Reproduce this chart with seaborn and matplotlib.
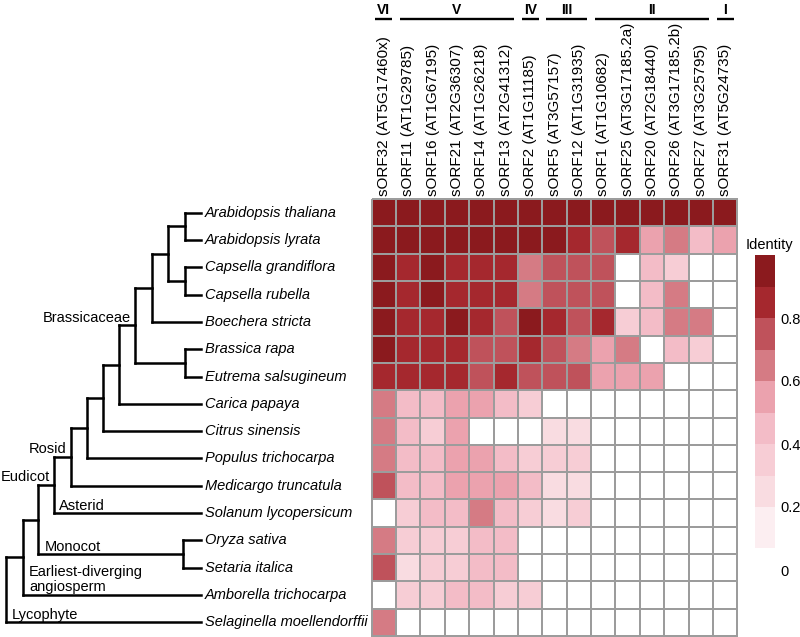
import matplotlib
matplotlib.use("Agg")
import matplotlib.pyplot as plt
import matplotlib.transforms as mtransforms
from matplotlib.colors import ListedColormap, BoundaryNorm
import pandas as pd
import seaborn as sns

plt.rcParams["font.family"] = ["Liberation Sans", "DejaVu Sans"]

species = [
    "Arabidopsis thaliana", "Arabidopsis lyrata", "Capsella grandiflora",
    "Capsella rubella", "Boechera stricta", "Brassica rapa",
    "Eutrema salsugineum", "Carica papaya", "Citrus sinensis",
    "Populus trichocarpa", "Medicargo truncatula", "Solanum lycopersicum",
    "Oryza sativa", "Setaria italica", "Amborella trichocarpa",
    "Selaginella moellendorffii",
]
sorfs = [
    "sORF32 (AT5G17460x)", "sORF11 (AT1G29785)", "sORF16 (AT1G67195)",
    "sORF21 (AT2G36307)", "sORF14 (AT1G26218)", "sORF13 (AT2G41312)",
    "sORF2 (AT1G11185)", "sORF5 (AT3G57157)", "sORF12 (AT1G31935)",
    "sORF1 (AT1G10682)", "sORF25 (AT3G17185.2a)", "sORF20 (AT2G18440)",
    "sORF26 (AT3G17185.2b)", "sORF27 (AT3G25795)", "sORF31 (AT5G24735)",
]
groups = ["VI", "V", "IV", "III", "II", "I"]
group_spans = [(0, 0), (1, 5), (6, 6), (7, 8), (9, 13), (14, 14)]

# identity per species (one value per sORF)
ath = [1.0, 1.0, 1.0, 1.0, 1.0, 1.0, 1.0, 1.0, 1.0, 1.0, 1.0, 1.0, 1.0, 1.0, 1.0]
aly = [0.95, 0.95, 0.95, 0.95, 0.95, 0.95, 0.95, 0.95, 0.85, 0.75, 0.85, 0.55, 0.65, 0.45, 0.55]
cgr = [0.95, 0.85, 0.95, 0.85, 0.85, 0.85, 0.65, 0.75, 0.75, 0.75, 0, 0.45, 0.35, 0, 0]
cru = [0.95, 0.85, 0.95, 0.85, 0.85, 0.85, 0.65, 0.75, 0.75, 0.75, 0, 0.45, 0.65, 0, 0]
bst = [0.95, 0.85, 0.85, 0.95, 0.85, 0.75, 0.95, 0.85, 0.75, 0.85, 0.35, 0.45, 0.65, 0.65, 0]
bra = [0.95, 0.85, 0.85, 0.85, 0.75, 0.75, 0.85, 0.75, 0.65, 0.55, 0.65, 0, 0.45, 0.35, 0]
esa = [0.85, 0.85, 0.85, 0.85, 0.75, 0.85, 0.75, 0.75, 0.75, 0.55, 0.55, 0.55, 0, 0, 0]
cpa = [0.65, 0.45, 0.45, 0.55, 0.55, 0.45, 0.35, 0, 0, 0, 0, 0, 0, 0, 0]
csi = [0.65, 0.45, 0.35, 0.55, 0, 0, 0, 0.25, 0.25, 0, 0, 0, 0, 0, 0]
ptr = [0.65, 0.45, 0.45, 0.55, 0.55, 0.45, 0.35, 0.35, 0.35, 0, 0, 0, 0, 0, 0]
mtr = [0.75, 0.45, 0.45, 0.55, 0.55, 0.55, 0.45, 0.25, 0.25, 0, 0, 0, 0, 0, 0]
sly = [0, 0.35, 0.45, 0.45, 0.65, 0.45, 0.35, 0.25, 0.35, 0, 0, 0, 0, 0, 0]
osa = [0.65, 0.35, 0.35, 0.35, 0.45, 0.45, 0, 0, 0, 0, 0, 0, 0, 0, 0]
sit = [0.75, 0.25, 0.35, 0.35, 0.45, 0.45, 0, 0, 0, 0, 0, 0, 0, 0, 0]
atr = [0, 0.35, 0.35, 0.45, 0.45, 0.35, 0.35, 0, 0, 0, 0, 0, 0, 0, 0]
smo = [0.65, 0, 0, 0, 0, 0, 0, 0, 0, 0, 0, 0, 0, 0, 0]

identity_bounds = [0, 0.07, 0.2, 0.3, 0.4, 0.5, 0.6, 0.7, 0.8, 0.9, 1.0]
identity_colors = ["#ffffff", "#fceef1", "#f9dce1", "#f7cdd5", "#f3bcc7",
                   "#eba2ae", "#d57b84", "#bf525b", "#a5282e", "#8b1a1e"]
cbar_ticks = [0, 0.2, 0.4, 0.6, 0.8]
cbar_ticklabels = ["0", "0.2", "0.4", "0.6", "0.8"]

# cladogram: (node, children) listed children first
clades = [
    ("arab", ["Arabidopsis thaliana", "Arabidopsis lyrata"]),
    ("caps", ["Capsella grandiflora", "Capsella rubella"]),
    ("ac", ["arab", "caps"]),
    ("acb", ["ac", "Boechera stricta"]),
    ("be", ["Brassica rapa", "Eutrema salsugineum"]),
    ("brass", ["acb", "be"]),
    ("car", ["brass", "Carica papaya"]),
    ("cit", ["car", "Citrus sinensis"]),
    ("pop", ["cit", "Populus trichocarpa"]),
    ("rosid", ["pop", "Medicargo truncatula"]),
    ("eudicot", ["rosid", "Solanum lycopersicum"]),
    ("os", ["Oryza sativa", "Setaria italica"]),
    ("mono", ["eudicot", "os"]),
    ("amb", ["mono", "Amborella trichocarpa"]),
    ("root", ["amb", "Selaginella moellendorffii"]),
]
clade_names = [
    ("Brassicaceae", "brass"), ("Rosid", "rosid"), ("Eudicot", "eudicot"),
    ("Asterid", "Solanum lycopersicum"), ("Monocot", "os"),
    ("Earliest-diverging\nangiosperm", "Amborella trichocarpa"),
    ("Lycophyte", "Selaginella moellendorffii"),
]

# layout (pixels of an 800x637 figure)
W, H = 800, 637
node_x = {"arab": 185, "caps": 185, "ac": 168, "acb": 152, "be": 185,
          "brass": 135, "car": 119, "cit": 103, "pop": 87, "rosid": 71,
          "eudicot": 54, "os": 183, "mono": 38, "amb": 23, "root": 6}
leaf_x = 201
label_pos = {"Brassicaceae": (131, "right"), "Rosid": (67, "right"),
             "Eudicot": (50, "right"), "Asterid": (59, "left"),
             "Monocot": (45, "left"), "Earliest-diverging\nangiosperm": (29, "left"),
             "Lycophyte": (12, "left")}

df = pd.DataFrame([ath, aly, cgr, cru, bst, bra, esa, cpa, csi, ptr, mtr,
                   sly, osa, sit, atr, smo], index=species, columns=sorfs)

cmap = ListedColormap(identity_colors)
norm = BoundaryNorm(identity_bounds, cmap.N)

fig = plt.figure(figsize=(W / 100, H / 100), dpi=100)
hm_left, hm_right, hm_top, hm_bottom = 371.7, 737.3, 199, 636
ax = fig.add_axes([hm_left / W, 1 - hm_bottom / H,
                   (hm_right - hm_left) / W, (hm_bottom - hm_top) / H])
cax = fig.add_axes([755 / W, 1 - 570 / H, 20 / W, 315 / H])

sns.heatmap(df, ax=ax, cmap=cmap, norm=norm, linewidths=1.3,
            linecolor="#9c9c9c", cbar_ax=cax,
            cbar_kws={"spacing": "proportional"},
            xticklabels=sorfs, yticklabels=False)
ax.collections[0].set_clip_on(False)
ax.xaxis.tick_top()
ax.tick_params(axis="x", length=0, pad=2)
plt.setp(ax.get_xticklabels(), rotation=90, ha="center", va="bottom",
         fontsize=11)
ax.set_xlabel("")
ax.set_ylabel("")

cbar = ax.collections[0].colorbar
cbar.set_ticks(cbar_ticks, labels=cbar_ticklabels)
cbar.ax.minorticks_off()
cbar.ax.tick_params(which="both", length=0, pad=4, labelsize=10.5)
cbar.outline.set_visible(False)
fig.text(769 / W, 1 - 245 / H, "Identity", ha="center", va="center",
         fontsize=10.5)

# group brackets above the columns
trans = mtransforms.blended_transform_factory(ax.transData, fig.transFigure)
for name, (a, b) in zip(groups, group_spans):
    x0, x1 = a + 0.15, b + 0.85
    ax.plot([x0, x1], [1 - 19 / H] * 2, transform=trans, color="black",
            lw=1.7, clip_on=False, solid_capstyle="butt")
    ax.text((x0 + x1) / 2, 1 - 14 / H, name, transform=trans, ha="center",
            va="baseline", fontsize=10, fontweight="bold")
ax.set_xlim(0, len(sorfs))

# tree on the left, sharing the heat map rows
tax = fig.add_axes([0, 1 - hm_bottom / H, hm_left / W, (hm_bottom - hm_top) / H])
tax.set_xlim(0, hm_left)
tax.set_ylim(len(species), 0)
tax.axis("off")

node_y = {}


def pos(n):
    if n in node_y:
        return node_x[n], node_y[n]
    return leaf_x, species.index(n) + 0.5


for name, kids in clades:
    ys = [pos(k)[1] for k in kids]
    node_y[name] = (min(ys) + max(ys)) / 2
    x = node_x[name]
    tax.plot([x, x], [min(ys), max(ys)], color="black", lw=1.8,
             solid_capstyle="projecting")
    for k in kids:
        kx, ky = pos(k)
        tax.plot([x, kx], [ky, ky], color="black", lw=1.8,
                 solid_capstyle="projecting")

for i, sp in enumerate(species):
    tax.text(205, i + 0.5, sp, style="italic", fontsize=10.5, va="center",
             ha="left")

for text, ref in clade_names:
    x, ha = label_pos[text]
    y = pos(ref)[1]
    tax.text(x, y - 0.02, text, ha=ha, va="bottom", fontsize=10.5,
             linespacing=1.15)

fig.savefig("out.png", dpi=100)
